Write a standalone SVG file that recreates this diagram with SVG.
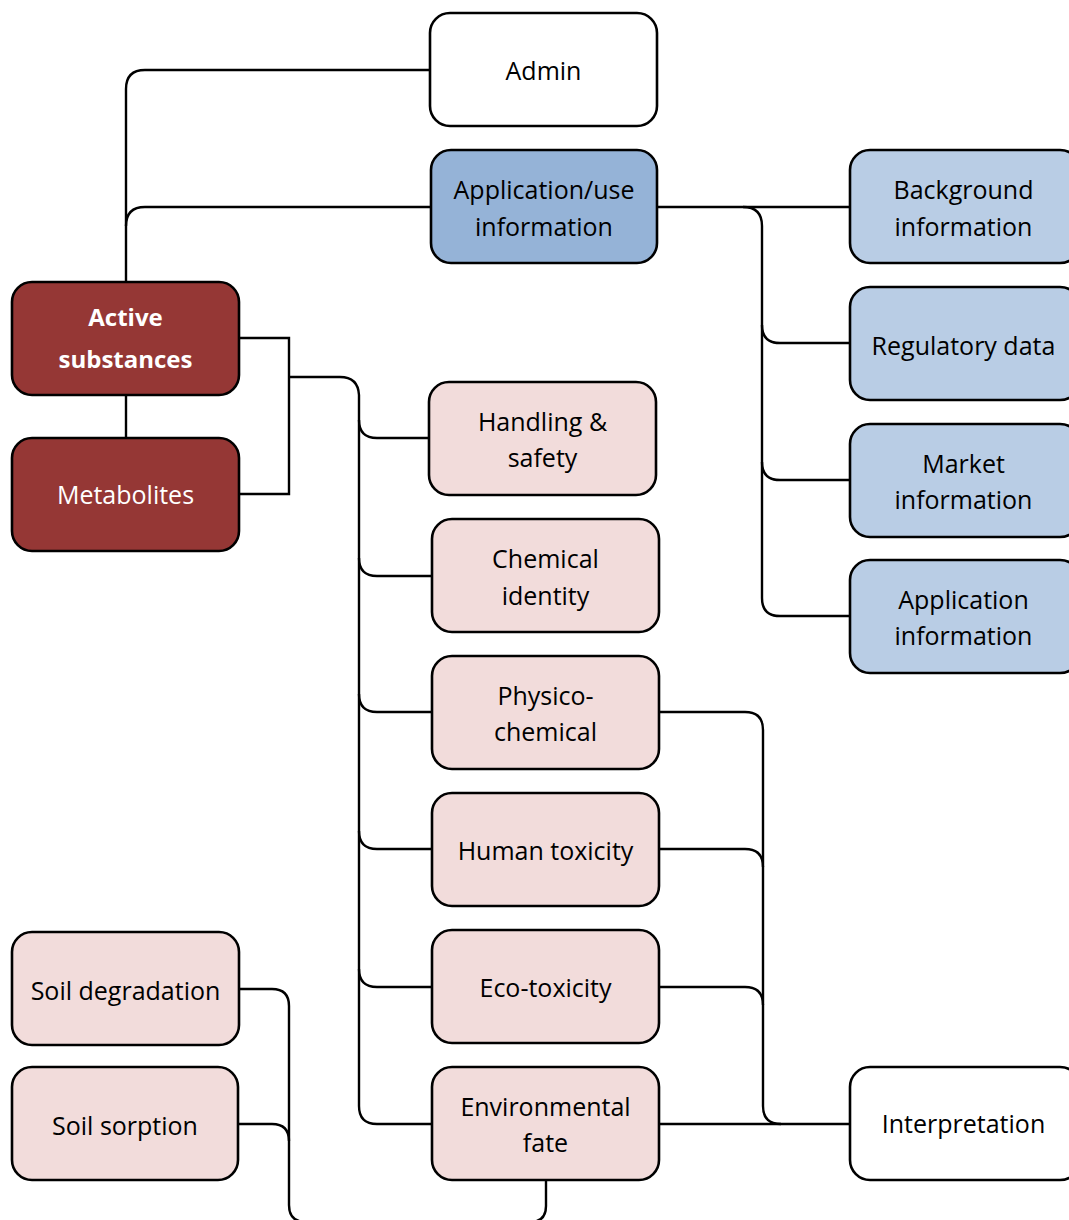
<svg xmlns="http://www.w3.org/2000/svg" width="1069" height="1220" viewBox="0 0 1069 1220">
<style>
.box{stroke:#000;stroke-width:2.6}
.w{fill:#fff}.dr{fill:#953735}.mb{fill:#95b3d7}.lb{fill:#b9cde5}.pk{fill:#f2dcdb}
.t{font-family:"Open Sans","Liberation Sans",sans-serif;font-size:25px;fill:#000;text-anchor:middle;dominant-baseline:central}
.tw{fill:#fff}.b{font-weight:bold;font-size:24px}
.c{fill:none;stroke:#000;stroke-width:2.4}
</style>
<rect width="1069" height="1220" fill="#fff"/>
<g id="connectors">
<path class="c" d="M430,70 H145 Q126,70 126,89 V282"/>
<path class="c" d="M431,207 H145 Q126,207 126,226"/>
<path class="c" d="M126,395 V438"/>
<path class="c" d="M239,338 H289 V494 H239"/>
<path class="c" d="M289,377 H340 Q358,377 359,395 V1106 Q359,1124 377,1124 H432"/>
<path class="c" d="M359,420 Q359,438 377,438 H429"/>
<path class="c" d="M359,558 Q359,576 377,576 H432"/>
<path class="c" d="M359,694 Q359,712 377,712 H432"/>
<path class="c" d="M359,831 Q359,849 377,849 H432"/>
<path class="c" d="M359,969 Q359,987 377,987 H432"/>
<path class="c" d="M657,207 H850"/>
<path class="c" d="M743,207 Q762,207 762,226 V598 Q762,616 780,616 H850"/>
<path class="c" d="M762,325 Q762,343 780,343 H850"/>
<path class="c" d="M762,462 Q762,480 780,480 H850"/>
<path class="c" d="M659,712 H745 Q763,712 763,730 V1106 Q763,1124 781,1124"/>
<path class="c" d="M659,849 H745 Q763,849 763,867"/>
<path class="c" d="M659,987 H745 Q763,987 763,1005"/>
<path class="c" d="M659,1124 H850"/>
<path class="c" d="M239,989 H272 Q289,989 289,1006 V1205 Q289,1222 306,1222 H530 Q546,1222 546,1206 V1180"/>
<path class="c" d="M238,1124 H272 Q289,1124 289,1141"/>
</g>
<g id="admin"><rect class="box w" x="430" y="13" width="227" height="113" rx="20"/><text class="t" x="543.5" y="70">Admin</text></g>
<g id="appuse"><rect class="box mb" x="431" y="150" width="226" height="113" rx="20"/><text class="t" x="544" y="189">Application/use</text><text class="t" x="544" y="226">information</text></g>
<g id="active"><rect class="box dr" x="12" y="282" width="227" height="113" rx="20"/><text class="t tw b" x="125.5" y="316">Active</text><text class="t tw b" x="125.5" y="358">substances</text></g>
<g id="metabolites"><rect class="box dr" x="12" y="438" width="227" height="113" rx="20"/><text class="t tw" x="125.5" y="494">Metabolites</text></g>
<g id="handling"><rect class="box pk" x="429" y="382" width="227" height="113" rx="20"/><text class="t" x="542.5" y="421">Handling &amp;</text><text class="t" x="542.5" y="457">safety</text></g>
<g id="chemical"><rect class="box pk" x="432" y="519" width="227" height="113" rx="20"/><text class="t" x="545.5" y="558">Chemical</text><text class="t" x="545.5" y="595">identity</text></g>
<g id="physico"><rect class="box pk" x="432" y="656" width="227" height="113" rx="20"/><text class="t" x="545.5" y="695">Physico-</text><text class="t" x="545.5" y="731">chemical</text></g>
<g id="human"><rect class="box pk" x="432" y="793" width="227" height="113" rx="20"/><text class="t" x="545.5" y="850">Human toxicity</text></g>
<g id="eco"><rect class="box pk" x="432" y="930" width="227" height="113" rx="20"/><text class="t" x="545.5" y="987">Eco-toxicity</text></g>
<g id="envfate"><rect class="box pk" x="432" y="1067" width="227" height="113" rx="20"/><text class="t" x="545.5" y="1106">Environmental</text><text class="t" x="545.5" y="1142">fate</text></g>
<g id="background"><rect class="box lb" x="850" y="150" width="230" height="113" rx="20"/><text class="t" x="963.5" y="189">Background</text><text class="t" x="963.5" y="226">information</text></g>
<g id="regulatory"><rect class="box lb" x="850" y="287" width="230" height="113" rx="20"/><text class="t" x="963.5" y="345">Regulatory data</text></g>
<g id="market"><rect class="box lb" x="850" y="424" width="230" height="113" rx="20"/><text class="t" x="963.5" y="463">Market</text><text class="t" x="963.5" y="499">information</text></g>
<g id="appinfo"><rect class="box lb" x="850" y="560" width="230" height="113" rx="20"/><text class="t" x="963.5" y="599">Application</text><text class="t" x="963.5" y="635">information</text></g>
<g id="interpretation"><rect class="box w" x="850" y="1067" width="230" height="113" rx="20"/><text class="t" x="963.5" y="1123">Interpretation</text></g>
<g id="soildeg"><rect class="box pk" x="12" y="932" width="227" height="113" rx="20"/><text class="t" x="125.5" y="990">Soil degradation</text></g>
<g id="soilsorp"><rect class="box pk" x="12" y="1067" width="226" height="113" rx="20"/><text class="t" x="125" y="1125">Soil sorption</text></g>
</svg>
